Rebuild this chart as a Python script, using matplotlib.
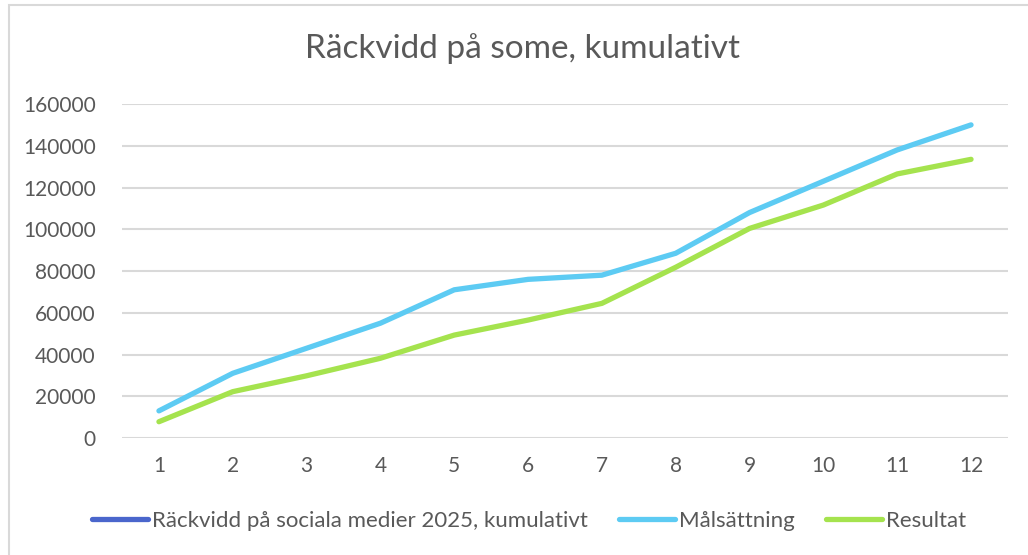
import numpy as np
import matplotlib.pyplot as plt
from matplotlib.patches import Rectangle

plt.rcParams['font.family'] = ['Lato', 'DejaVu Sans']

# Data
months = list(range(1, 13))
series_names = ['Räckvidd på sociala medier 2025, kumulativt', 'Målsättning', 'Resultat']
rackvidd = [np.nan] * 12  # empty series, only shown in legend
malsattning = [13000, 31000, 43000, 55000, 71000, 76000, 78000, 88500, 108000, 123000, 138000, 150000]
resultat = [7800, 22200, 29800, 38200, 49300, 56500, 64500, 81800, 100400, 111600, 126500, 133500]
yticks = [0, 20000, 40000, 60000, 80000, 100000, 120000, 140000, 160000]

text_color = '#595959'
grid_color = '#D9D9D9'

fig = plt.figure(figsize=(10.28, 5.55), dpi=100)
ax = fig.add_axes([0.1187, 0.2108, 0.8618, 0.6018])

ax.plot(months, rackvidd, color='#4A66CC', linewidth=3.8, solid_capstyle='round', label=series_names[0])
ax.plot(months, malsattning, color='#5DCBF3', linewidth=3.8, solid_capstyle='round', label=series_names[1])
ax.plot(months, resultat, color='#A5E34E', linewidth=3.8, solid_capstyle='round', label=series_names[2])

ax.set_xlim(0.5, 12.5)
ax.set_ylim(0, 160000)
ax.set_xticks(months)
ax.set_xticklabels([str(m) for m in months])
ax.set_yticks(yticks)
ax.set_yticklabels([str(v) for v in yticks])

ax.grid(True, axis='y', color=grid_color, linewidth=1.5)
ax.set_axisbelow(True)
for s in ax.spines.values():
    s.set_visible(False)
ax.tick_params(axis='both', length=0, colors=text_color, labelsize=15)
ax.tick_params(axis='y', pad=19)
ax.tick_params(axis='x', pad=13)

fig.suptitle('Räckvidd på some, kumulativt', x=0.508, y=0.94, fontsize=24, color=text_color)

leg = fig.legend(loc='center', bbox_to_anchor=(0.515, 0.061), ncol=3, frameon=False,
                 fontsize=16, handlelength=2.5, handletextpad=0.2, columnspacing=1.4)
for t in leg.get_texts():
    t.set_color(text_color)

# chart border (left and top visible)
fig.patches.append(Rectangle((9 / 1028, -0.05), 1.1, 1 - 5 / 555 + 0.05, transform=fig.transFigure,
                             fill=False, edgecolor=grid_color, linewidth=1.5))

fig.savefig('out.png', dpi=100, facecolor='white')
